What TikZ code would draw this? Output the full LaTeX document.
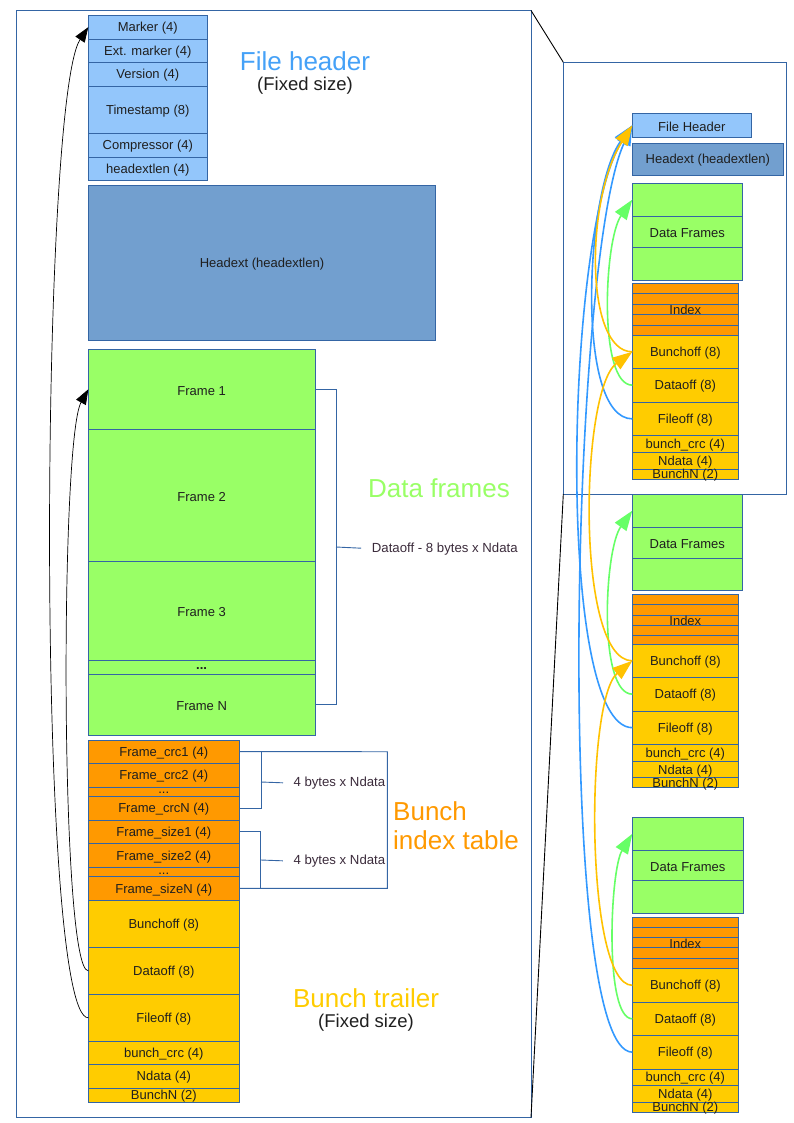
\documentclass[tikz,border=0pt]{standalone}
\usepackage{fontspec}
\setmainfont{Liberation Sans}
\usetikzlibrary{arrows.meta}
\definecolor{bord}{HTML}{3465A4}
\definecolor{hdr}{HTML}{93C6FB}
\definecolor{hext}{HTML}{729FCF}
\definecolor{grn}{HTML}{99FF66}
\definecolor{org}{HTML}{FF9900}
\definecolor{ylw}{HTML}{FFCC00}
\definecolor{lblue}{HTML}{45A1F7}
\definecolor{agreen}{HTML}{66FF66}
\definecolor{ablue}{HTML}{3399FF}
\definecolor{ayellow}{HTML}{FFC200}
\definecolor{dtext}{HTML}{3B2B3B}
\tikzset{
  cellbox/.style={draw=bord, line width=0.9pt, inner sep=0pt, outer sep=0pt},
  celltext/.style={inner sep=0pt, font=\fontsize{13}{15}\selectfont, text=black!88, yshift=-1.3pt},
  framebox/.style={draw=bord, line width=0.9pt, inner sep=0pt, outer sep=0pt},
  bigtitle/.style={font=\fontsize{26}{29}\selectfont, inner sep=0pt},
  subtitle/.style={font=\fontsize{18.5}{22}\selectfont, inner sep=0pt, text=black!88},
  notetext/.style={font=\fontsize{13.2}{15}\selectfont, inner sep=0pt, text=dtext, anchor=west, yshift=-1.2pt},
  bracket/.style={draw=bord, line width=0.9pt},
  blk/.style={draw=black, line width=0.7pt, -{Triangle[length=15pt,width=11pt]}},
  ab/.style={draw=ablue, line width=1.6pt, -{Triangle[length=20pt,width=14pt]}},
  ag/.style={draw=agreen, line width=1.6pt, -{Triangle[length=20pt,width=14pt]}},
  ay/.style={draw=ayellow, line width=1.6pt, -{Triangle[length=20pt,width=14pt]}},
}
% name, x1, y1, x2, y2, fill, text
\newcommand\cell[7]{%
  \node[cellbox, fill=#6, minimum width={#4pt-#2pt}, minimum height={#5pt-#3pt}] (#1) at ({(#2+#4)/2},{(#3+#5)/2}) {};
  \node[celltext] (#1-t) at (#1.center) {#7};}
\begin{document}
\begin{tikzpicture}[x=1pt,y=-1pt]
\useasboundingbox (0,0) rectangle (794,1123);
% frames
\node[framebox, minimum width=515pt, minimum height=1107pt] (outer) at (273.5,564) {};
\node[framebox, minimum width=223pt, minimum height=431.7pt] (inset) at (674.8,278.15) {};
\draw[black, line width=0.9pt] (outer.north east) -- (inset.north west);
\draw[black, line width=0.9pt] (outer.south east) -- (inset.south west);

% ---------- left column: file header
\cell{lmk}{88.3}{15}{207.3}{39.3}{hdr}{Marker (4)}
\cell{lem}{88.3}{39.3}{207.3}{62.3}{hdr}{Ext. marker (4)}
\cell{lvr}{88.3}{62.3}{207.3}{86.3}{hdr}{Version (4)}
\cell{lts}{88.3}{86.3}{207.3}{133.3}{hdr}{Timestamp (8)}
\cell{lcp}{88.3}{133.3}{207.3}{157.3}{hdr}{Compressor (4)}
\cell{lhl}{88.3}{157.3}{207.3}{180.3}{hdr}{headextlen (4)}
\cell{lhx}{88.3}{185.5}{435.7}{340}{hext}{Headext (headextlen)}
% frames
\cell{lf1}{88.3}{349.3}{315}{429.3}{grn}{Frame 1}
\cell{lf2}{88.3}{429.3}{315}{561.3}{grn}{Frame 2}
\cell{lf3}{88.3}{561.3}{315}{660.3}{grn}{Frame 3}
\cell{lfd}{88.3}{660.3}{315}{674.3}{grn}{\textbf{...}}
\cell{lfn}{88.3}{674.3}{315}{735}{grn}{Frame N}
% index
\cell{lc1}{88.3}{740}{239.3}{763.3}{org}{Frame\_crc1 (4)}
\cell{lc2}{88.3}{763.3}{239.3}{787.3}{org}{Frame\_crc2 (4)}
\cell{lcd}{88.3}{787.3}{239.3}{796.3}{org}{...}
\cell{lcn}{88.3}{796.3}{239.3}{820}{org}{Frame\_crcN (4)}
\cell{ls1}{88.3}{820}{239.3}{843.7}{org}{Frame\_size1 (4)}
\cell{ls2}{88.3}{843.7}{239.3}{867.3}{org}{Frame\_size2 (4)}
\cell{lsd}{88.3}{867.3}{239.3}{876.7}{org}{...}
\cell{lsn}{88.3}{876.7}{239.3}{900}{org}{Frame\_sizeN (4)}
% trailer
\cell{lbo}{88.3}{900}{239.3}{947.3}{ylw}{Bunchoff (8)}
\cell{ldo}{88.3}{947.3}{239.3}{994.3}{ylw}{Dataoff (8)}
\cell{lfo}{88.3}{994.3}{239.3}{1041.3}{ylw}{Fileoff (8)}
\cell{lbc}{88.3}{1041.3}{239.3}{1064.3}{ylw}{bunch\_crc (4)}
\cell{lnd}{88.3}{1064.3}{239.3}{1088.3}{ylw}{Ndata (4)}
\cell{lbn}{88.3}{1088.3}{239.3}{1102}{ylw}{BunchN (2)}

% titles
\node[bigtitle, text=lblue] (tfh) at (305,61) {File header};
\node[subtitle] (tfh2) at (305,86) {(Fixed size)};
\node[bigtitle, text=grn] (tdf) at (439,488) {Data frames};
\node[bigtitle, text=org, align=left, anchor=west] (tbi) at (393,825.5) {Bunch\\index table};
\node[bigtitle, text=ylw] (tbt) at (366,998) {Bunch trailer};
\node[subtitle] (tbt2) at (366,1023) {(Fixed size)};

% brackets
\draw[bracket] (lf1.east) -- ++(21,0) coordinate (dtop) |- (lfn.east);
\coordinate (dmid) at (336,547);
\node[notetext] (ndf) at (371.7,547.5) {Dataoff - 8 bytes x Ndata};
\draw[bracket, shorten >=10.5pt] (dmid) -- (ndf.west);

\draw[bracket] (lc1.east) -- ++(22,0) |- (lcn.east);
\draw[bracket] (ls1.east) -- ++(21.5,0) |- (lsn.east);
\draw[bracket] (lc1.east) -- (387.3,751.7) |- (lsn.east);
\coordinate (cmid) at (261,782);
\coordinate (smid) at (260.8,860);
\node[notetext] (ncr) at (293.3,782) {4 bytes x Ndata};
\node[notetext] (nsz) at (293.3,860) {4 bytes x Ndata};
\draw[bracket, shorten >=10.3pt] (cmid) -- (ncr.west);
\draw[bracket, shorten >=10.5pt] (smid) -- (nsz.west);

% left arrows
\draw[blk] (lfo.west) .. controls (36,1017.8) and (40,100) .. (lmk.west);
\draw[blk] (ldo.west) .. controls (60,970.8) and (60,440) .. (lf1.west);

% ---------- right column
\cell{fh}{632.3}{113.3}{751.3}{137.3}{hdr}{File Header}
\cell{hx}{632.3}{143.3}{783.3}{175.3}{hext}{Headext (headextlen)}
% group 1
\cell{dfa1}{632.3}{183.3}{742.3}{216}{grn}{}
\cell{dfb1}{632.3}{216}{742.3}{247.3}{grn}{Data Frames}
\cell{dfc1}{632.3}{247.3}{742.3}{280}{grn}{}
\cell{ixa1}{632.3}{283.3}{738.3}{293.3}{org}{}
\cell{ixb1}{632.3}{293.3}{738.3}{304}{org}{}
\cell{ixc1}{632.3}{304}{738.3}{314.7}{org}{}
\cell{ixd1}{632.3}{314.7}{738.3}{325}{org}{}
\cell{ixe1}{632.3}{325}{738.3}{335.3}{org}{}
\node[celltext] (ix1) at (685.3,309) {Index};
\cell{bo1}{632.3}{335.3}{738.3}{368.3}{ylw}{Bunchoff (8)}
\cell{do1}{632.3}{368.3}{738.3}{402}{ylw}{Dataoff (8)}
\cell{fo1}{632.3}{402}{738.3}{435.7}{ylw}{Fileoff (8)}
\cell{bc1}{632.3}{435.7}{738.3}{452.3}{ylw}{bunch\_crc (4)}
\cell{nd1}{632.3}{452.3}{738.3}{469}{ylw}{Ndata (4)}
\cell{bn1}{632.3}{469}{738.3}{479.3}{ylw}{}
\node[celltext] (bn1t) at (685.3,474) {BunchN (2)};
% group 2
\cell{dfa2}{632.3}{494}{742.3}{527.3}{grn}{}
\cell{dfb2}{632.3}{527.3}{742.3}{558.3}{grn}{Data Frames}
\cell{dfc2}{632.3}{558.3}{742.3}{590.7}{grn}{}
\cell{ixa2}{632.3}{594.3}{738.3}{604.7}{org}{}
\cell{ixb2}{632.3}{604.7}{738.3}{615}{org}{}
\cell{ixc2}{632.3}{615}{738.3}{625.3}{org}{}
\cell{ixd2}{632.3}{625.3}{738.3}{635.3}{org}{}
\cell{ixe2}{632.3}{635.3}{738.3}{644.3}{org}{}
\node[celltext] (ix2) at (685.3,619.5) {Index};
\cell{bo2}{632.3}{644.3}{738.3}{677.3}{ylw}{Bunchoff (8)}
\cell{do2}{632.3}{677.3}{738.3}{711}{ylw}{Dataoff (8)}
\cell{fo2}{632.3}{711}{738.3}{744.3}{ylw}{Fileoff (8)}
\cell{bc2}{632.3}{744.3}{738.3}{761}{ylw}{bunch\_crc (4)}
\cell{nd2}{632.3}{761}{738.3}{777.7}{ylw}{Ndata (4)}
\cell{bn2}{632.3}{777.7}{738.3}{787.7}{ylw}{}
\node[celltext] (bn2t) at (685.3,782.5) {BunchN (2)};
% group 3
\cell{dfa3}{632.3}{817.3}{743.3}{850.3}{grn}{}
\cell{dfb3}{632.3}{850.3}{743.3}{880.3}{grn}{Data Frames}
\cell{dfc3}{632.3}{880.3}{743.3}{913.3}{grn}{}
\cell{ixa3}{632.3}{917.3}{738.3}{927.3}{org}{}
\cell{ixb3}{632.3}{927.3}{738.3}{937}{org}{}
\cell{ixc3}{632.3}{937}{738.3}{947.3}{org}{}
\cell{ixd3}{632.3}{947.3}{738.3}{958}{org}{}
\cell{ixe3}{632.3}{958}{738.3}{968.3}{org}{}
\node[celltext] (ix3) at (685.3,942.5) {Index};
\cell{bo3}{632.3}{968.3}{738.3}{1002.3}{ylw}{Bunchoff (8)}
\cell{do3}{632.3}{1002.3}{738.3}{1035.3}{ylw}{Dataoff (8)}
\cell{fo3}{632.3}{1035.3}{738.3}{1069}{ylw}{Fileoff (8)}
\cell{bc3}{632.3}{1069}{738.3}{1085.3}{ylw}{bunch\_crc (4)}
\cell{nd3}{632.3}{1085.3}{738.3}{1102.3}{ylw}{Ndata (4)}
\cell{bn3}{632.3}{1102.3}{738.3}{1112.3}{ylw}{}
\node[celltext] (bn3t) at (685.3,1107.3) {BunchN (2)};

% right arrows
\draw[ab] (fo1.west) .. controls (575,418.8) and (585,190) .. (fh.west);
\draw[ab] (fo2.west) .. controls (555,727.6) and (565,230) .. (fh.west);
\draw[ab] (fo3.west) .. controls (555,1052.2) and (570,260) .. (fh.west);
\draw[ag] (do1.west) .. controls (598,385.2) and (604,240) .. (dfa1.west);
\draw[ag] (do2.west) .. controls (598,694) and (604,550) .. (dfa2.west);
\draw[ag] (do3.west) .. controls (604,1018.8) and (610,870) .. (dfa3.west);
\draw[ay] (bo1.west) .. controls (585,351.8) and (585,200) .. (fh.west);
\draw[ay] (bo2.west) .. controls (575,660.8) and (580,390) .. (bo1.west);
\draw[ay] (bo3.west) .. controls (585,985.3) and (585,700) .. (bo2.west);
\end{tikzpicture}
\end{document}
